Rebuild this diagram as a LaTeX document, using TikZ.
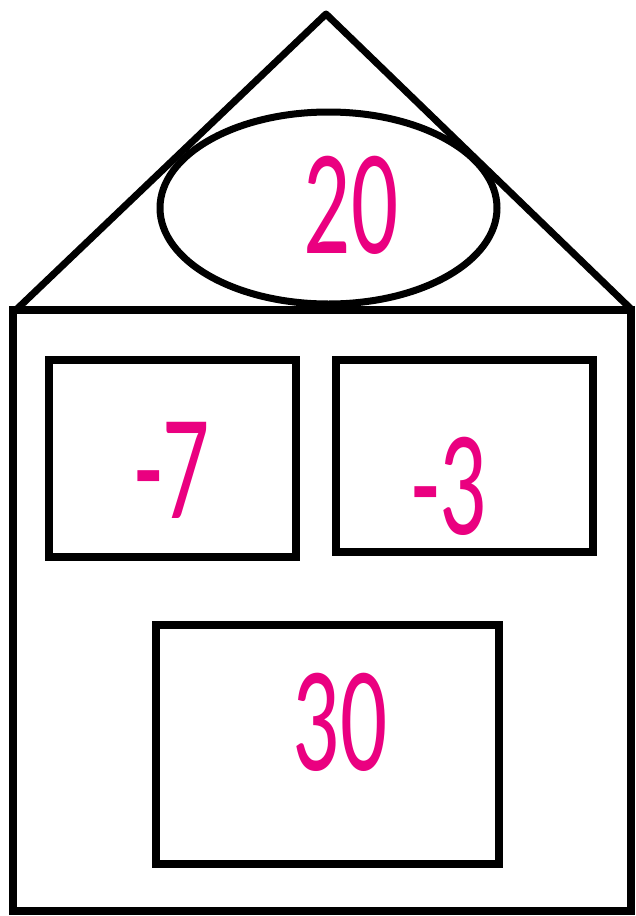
\documentclass[tikz,border=0pt]{standalone}
\usepackage{fontspec}
\usetikzlibrary{shapes.geometric}
\newfontfamily\numfont{Carlito}
\definecolor{numpink}{RGB}{234,0,128}
\begin{document}
\begin{tikzpicture}[x=1pt,y=-1pt,
  outline/.style={draw=black,line width=8pt,line join=miter},
  thin outline/.style={draw=black,line width=7pt,line join=round},
  num/.style={text=numpink,inner sep=0pt,xscale=0.62,font=\numfont\fontsize{150}{150}\selectfont}]
\useasboundingbox[fill=white] (0,0) rectangle (635,916);
% roof
\coordinate (apex) at (326,14);
\coordinate (roofL) at (17,309);
\coordinate (roofR) at (631,309);
\draw[thin outline] (roofL) -- (apex) -- (roofR);
% ellipse
\node[thin outline,ellipse,minimum width=337pt,minimum height=192pt,inner sep=0pt] (top) at (328.5,208) {};
% house body
\draw[outline] (13,310) rectangle (631,911);
% boxes
\node[outline,minimum width=247pt,minimum height=197pt,inner sep=0pt] (bl) at (172.5,458.5) {};
\node[outline,minimum width=257pt,minimum height=192pt,inner sep=0pt] (br) at (464.5,456) {};
\node[outline,minimum width=343pt,minimum height=239pt,inner sep=0pt] (bb) at (327.5,744.5) {};
% numbers
\node[num] (n20) at (351,205) {20};
\node[num] (n7) at (172,470) {-7};
\node[num] (n3) at (449,486) {-3};
\node[num] (n30) at (340,722) {30};
\end{tikzpicture}
\end{document}
